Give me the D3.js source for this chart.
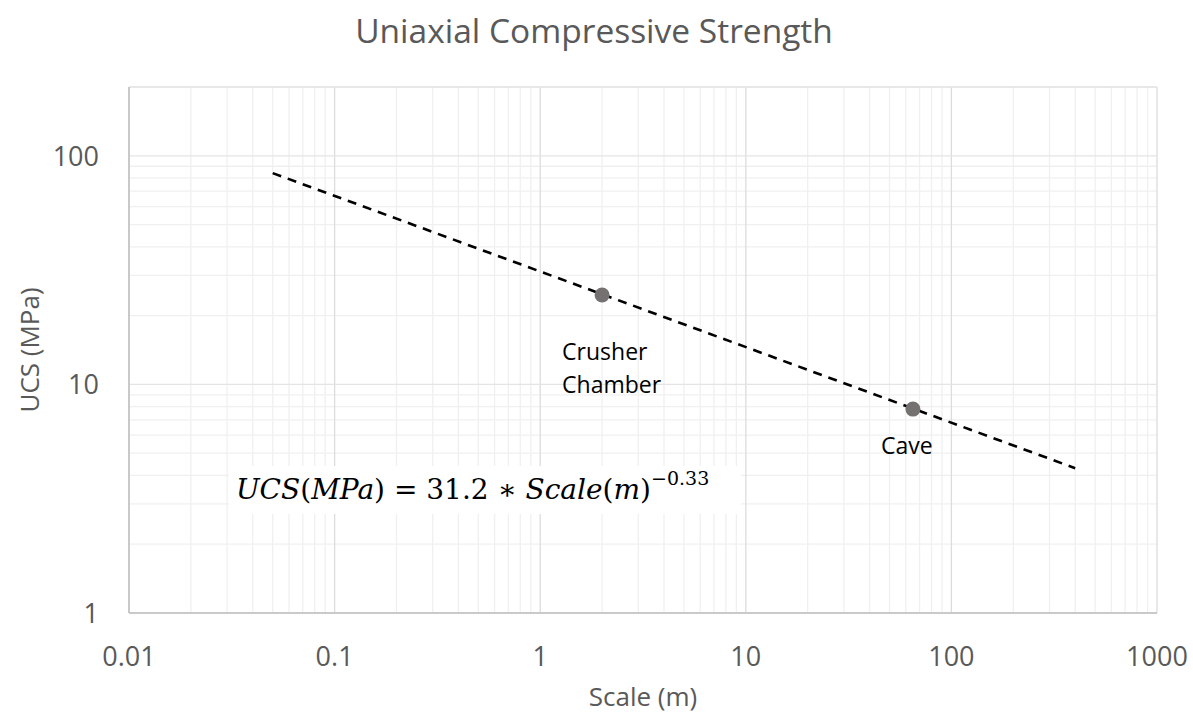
<!DOCTYPE html>
<html><head><meta charset="utf-8">
<script src="https://cdn.jsdelivr.net/npm/d3@7"></script>
<style>
body{margin:0;background:#fff;}
svg{display:block;}
</style></head>
<body><svg id="c" width="1193" height="716"></svg>
<script>
const title = "Uniaxial Compressive Strength";
const xTitle = "Scale (m)";
const yTitle = "UCS (MPa)";
const xTicks = [0.01, 0.1, 1, 10, 100, 1000];
const xTickLabels = ["0.01", "0.1", "1", "10", "100", "1000"];
const yTicks = [1, 10, 100];
const yTickLabels = ["1", "10", "100"];
const pointNames = [["Crusher", "Chamber"], ["Cave"]];
const pointX = [2, 65];
const pointY = [24.6, 7.8];
const trendX = [0.05, 400];
const trendY = [84, 4.3];

const svg = d3.select("#c");
const L = 129, R = 1157, T = 87, B = 613;
const x = d3.scaleLog().domain([0.01, 1000]).range([L, R]);
const y = d3.scaleLog().domain([1, 200]).range([B, T]);

// minor gridlines
const xMinor = [];
for (let e = -2; e < 3; e++) for (let m = 2; m <= 9; m++) xMinor.push(m * Math.pow(10, e));
const yMinor = [];
for (let e = 0; e < 3; e++) for (let m = 2; m <= 9; m++) { const v = m * Math.pow(10, e); if (v <= 200) yMinor.push(v); }
const g = svg.append("g");
g.selectAll(".xm").data(xMinor).join("line")
  .attr("x1", d => x(d)).attr("x2", d => x(d)).attr("y1", T).attr("y2", B)
  .attr("stroke", "#f0f0f0").attr("stroke-width", 1.3);
g.selectAll(".ym").data(yMinor).join("line")
  .attr("y1", d => y(d)).attr("y2", d => y(d)).attr("x1", L).attr("x2", R)
  .attr("stroke", "#f0f0f0").attr("stroke-width", 1.3);
// major gridlines
g.selectAll(".xM").data(xTicks).join("line")
  .attr("x1", d => x(d)).attr("x2", d => x(d)).attr("y1", T).attr("y2", B)
  .attr("stroke", "#dcdcdc").attr("stroke-width", 1.3);
g.selectAll(".yM").data(yTicks.concat([200])).join("line")
  .attr("y1", d => y(d)).attr("y2", d => y(d)).attr("x1", L).attr("x2", R)
  .attr("stroke", "#e4e4e4").attr("stroke-width", 1.3);

// axes lines
svg.append("line").attr("x1", L).attr("x2", L).attr("y1", T).attr("y2", B).attr("stroke", "#bfbfbf").attr("stroke-width", 1.5);
svg.append("line").attr("x1", L).attr("x2", R).attr("y1", B).attr("y2", B).attr("stroke", "#bfbfbf").attr("stroke-width", 1.5);

// tick labels
const font = "'Open Sans', sans-serif";
svg.selectAll(".xt").data(xTicks).join("text")
  .attr("x", d => x(d)).attr("y", 666).attr("text-anchor", "middle")
  .attr("font-family", font).attr("font-size", 27).attr("fill", "#595959")
  .text((d, i) => xTickLabels[i]);
svg.selectAll(".yt").data(yTicks).join("text")
  .attr("x", 99).attr("y", d => y(d) + 10).attr("text-anchor", "end")
  .attr("font-family", font).attr("font-size", 27).attr("fill", "#595959")
  .text((d, i) => yTickLabels[i]);

// titles
svg.append("text").attr("x", 594).attr("y", 43).attr("text-anchor", "middle")
  .attr("font-family", font).attr("font-size", 33.5).attr("fill", "#595959").text(title);
svg.append("text").attr("x", 643).attr("y", 706).attr("text-anchor", "middle")
  .attr("font-family", font).attr("font-size", 26).attr("fill", "#595959").text(xTitle);
svg.append("text").attr("transform", "translate(39,350) rotate(-90)").attr("text-anchor", "middle")
  .attr("font-family", font).attr("font-size", 26).attr("fill", "#595959").text(yTitle);

// trend line
svg.append("path").datum(trendX.map((d, i) => [d, trendY[i]]))
  .attr("d", d3.line().x(d => x(d[0])).y(d => y(d[1])))
  .attr("fill", "none").attr("stroke", "#000").attr("stroke-width", 2.6).attr("stroke-dasharray", "9,7");

// points
svg.selectAll(".pt").data(pointX).join("circle")
  .attr("cx", d => x(d)).attr("cy", (d, i) => y(pointY[i])).attr("r", 7.5)
  .attr("fill", "#767171");

// labels
const labOff = [[-40, 65], [-32, 45]];
pointNames.forEach((lines, i) => {
  const t = svg.append("text").attr("font-family", font).attr("font-size", 23).attr("fill", "#000");
  lines.forEach((s, j) => {
    t.append("tspan").attr("x", x(pointX[i]) + labOff[i][0]).attr("y", y(pointY[i]) + labOff[i][1] + j * 33).text(s);
  });
});

// equation box
svg.append("rect").attr("x", 229).attr("y", 466).attr("width", 512).attr("height", 48).attr("fill", "#fff");
const eq = svg.append("text").attr("x", 236).attr("y", 499).attr("font-family", "'DejaVu Serif', serif").attr("font-size", 28).attr("fill", "#000");
eq.append("tspan").attr("font-style", "italic").text("UCS");
eq.append("tspan").text("(");
eq.append("tspan").attr("font-style", "italic").text("MPa");
eq.append("tspan").text(") = 31.2 \u2217 ");
eq.append("tspan").attr("font-style", "italic").text("Scale");
eq.append("tspan").text("(");
eq.append("tspan").attr("font-style", "italic").text("m");
eq.append("tspan").text(")");
eq.append("tspan").attr("dy", -14).attr("font-size", 19).text("\u22120.33");
</script></body></html>
